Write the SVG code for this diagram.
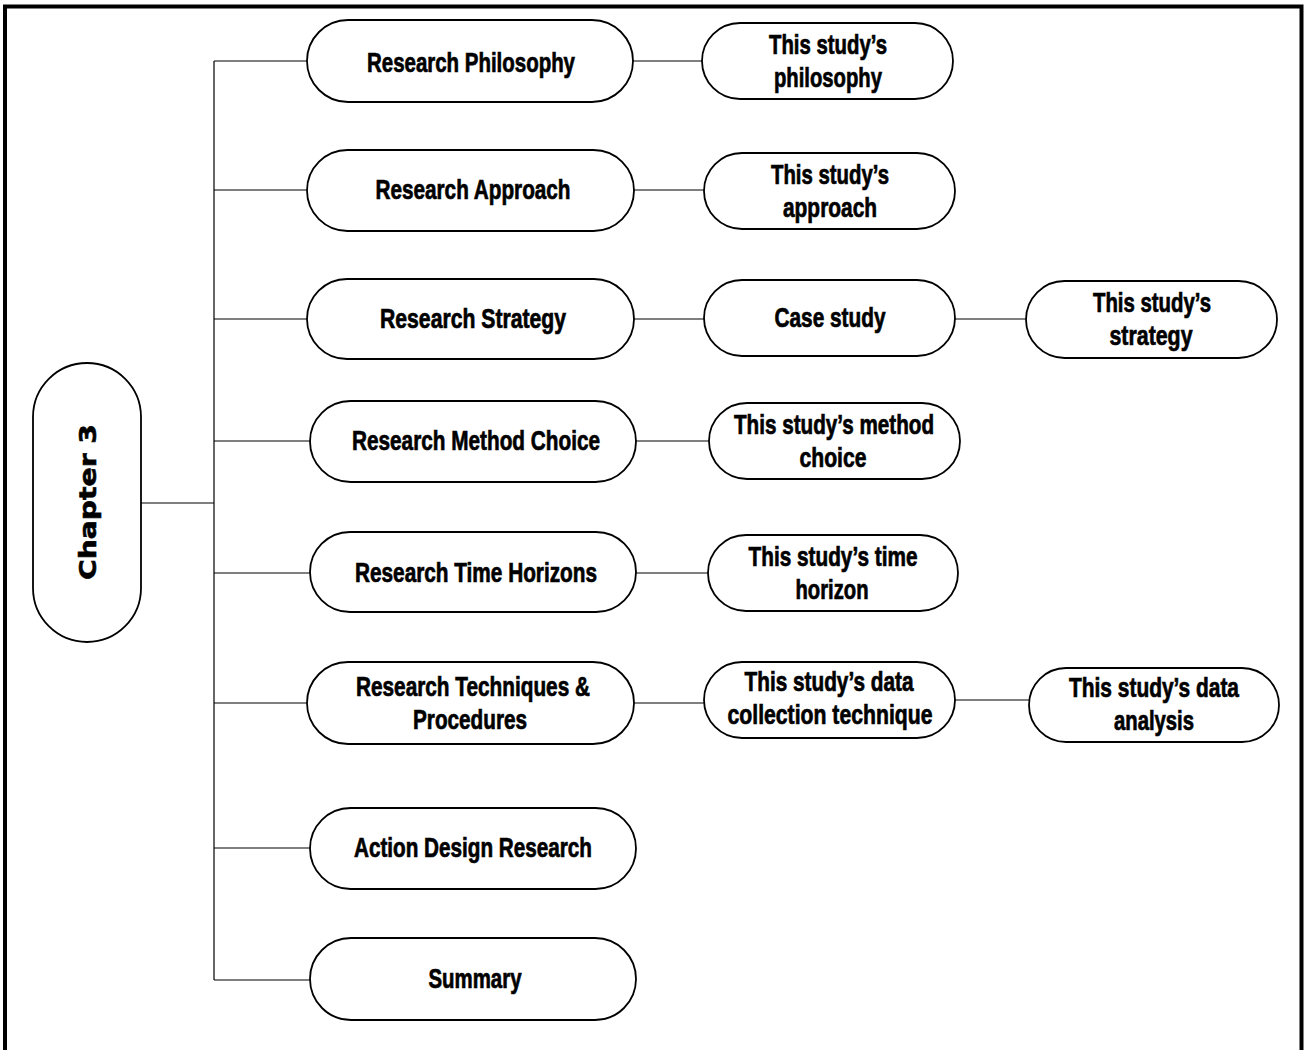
<svg xmlns="http://www.w3.org/2000/svg" width="1306" height="1050" viewBox="0 0 1306 1050">
<style>
.n{fill:#fff;stroke:#000;stroke-width:1.8}
.t{font-family:"Liberation Sans",Arial,sans-serif;font-weight:bold;font-size:27px;fill:#000;stroke:#000;stroke-width:0.7;text-anchor:middle}
.c{fill:none;stroke:#000;stroke-width:1.2}
.ch{font-family:"DejaVu Sans","Liberation Sans",sans-serif;font-weight:bold;font-size:23px;fill:#000;stroke:#000;stroke-width:0.6;text-anchor:middle}
</style>
<rect x="0" y="0" width="1306" height="1050" fill="#fff"/>
<path d="M5,1050 V6.5 H1301.5 V1050" fill="none" stroke="#000" stroke-width="4"/>
<g id="connectors">
<path class="c" d="M214,61 V980"/>
<path class="c" d="M141,503 H214"/>
<path class="c" d="M214,61 H307 M633,61 H702"/>
<path class="c" d="M214,190 H307 M634,190 H704"/>
<path class="c" d="M214,319 H307 M634,319 H704 M955,319 H1026"/>
<path class="c" d="M214,441 H310 M636,441 H709"/>
<path class="c" d="M214,573 H310 M636,573 H708"/>
<path class="c" d="M214,703 H307 M634,703 H704 M955,700 H1029"/>
<path class="c" d="M214,848 H310"/>
<path class="c" d="M214,980 H310"/>
</g>
<g id="chapter3"><rect class="n" x="33" y="363" width="108" height="279" rx="54"/><text class="ch" transform="translate(96,502) rotate(-90)" textLength="156" lengthAdjust="spacingAndGlyphs">Chapter 3</text></g>
<g id="philosophy"><rect class="n" x="307" y="20" width="326" height="82" rx="41"/><text class="t" x="471" y="72" textLength="208" lengthAdjust="spacingAndGlyphs">Research Philosophy</text></g>
<g id="approach"><rect class="n" x="307" y="150" width="327" height="81" rx="40.5"/><text class="t" x="473" y="199" textLength="195" lengthAdjust="spacingAndGlyphs">Research Approach</text></g>
<g id="strategy"><rect class="n" x="307" y="279" width="327" height="80" rx="40"/><text class="t" x="473" y="328" textLength="186" lengthAdjust="spacingAndGlyphs">Research Strategy</text></g>
<g id="method"><rect class="n" x="310" y="401" width="326" height="81" rx="40.5"/><text class="t" x="476" y="450" textLength="248" lengthAdjust="spacingAndGlyphs">Research Method Choice</text></g>
<g id="time"><rect class="n" x="310" y="532" width="326" height="80" rx="40"/><text class="t" x="476" y="582" textLength="242" lengthAdjust="spacingAndGlyphs">Research Time Horizons</text></g>
<g id="techniques"><rect class="n" x="307" y="662" width="327" height="82" rx="41"/><text class="t" x="473" y="696" textLength="234" lengthAdjust="spacingAndGlyphs">Research Techniques &amp;</text><text class="t" x="470" y="729" textLength="114" lengthAdjust="spacingAndGlyphs">Procedures</text></g>
<g id="adr"><rect class="n" x="310" y="808" width="326" height="81" rx="40.5"/><text class="t" x="473" y="857" textLength="238" lengthAdjust="spacingAndGlyphs">Action Design Research</text></g>
<g id="summary"><rect class="n" x="310" y="938" width="326" height="82" rx="41"/><text class="t" x="475" y="988" textLength="93" lengthAdjust="spacingAndGlyphs">Summary</text></g>
<g id="study-philosophy"><rect class="n" x="702" y="23" width="251" height="76" rx="38"/><text class="t" x="828" y="54" textLength="118" lengthAdjust="spacingAndGlyphs">This study’s</text><text class="t" x="828" y="87" textLength="108" lengthAdjust="spacingAndGlyphs">philosophy</text></g>
<g id="study-approach"><rect class="n" x="704" y="153" width="251" height="76" rx="38"/><text class="t" x="830" y="184" textLength="118" lengthAdjust="spacingAndGlyphs">This study’s</text><text class="t" x="830" y="217" textLength="94" lengthAdjust="spacingAndGlyphs">approach</text></g>
<g id="case-study"><rect class="n" x="704" y="280" width="251" height="76" rx="38"/><text class="t" x="830" y="327" textLength="111" lengthAdjust="spacingAndGlyphs">Case study</text></g>
<g id="study-strategy"><rect class="n" x="1026" y="281" width="251" height="77" rx="38.5"/><text class="t" x="1152" y="312" textLength="118" lengthAdjust="spacingAndGlyphs">This study’s</text><text class="t" x="1151" y="345" textLength="83" lengthAdjust="spacingAndGlyphs">strategy</text></g>
<g id="study-method"><rect class="n" x="709" y="403" width="251" height="76" rx="38"/><text class="t" x="834" y="434" textLength="200" lengthAdjust="spacingAndGlyphs">This study’s method</text><text class="t" x="833" y="467" textLength="67" lengthAdjust="spacingAndGlyphs">choice</text></g>
<g id="study-time"><rect class="n" x="708" y="535" width="250" height="76" rx="38"/><text class="t" x="833" y="566" textLength="169" lengthAdjust="spacingAndGlyphs">This study’s time</text><text class="t" x="832" y="599" textLength="73" lengthAdjust="spacingAndGlyphs">horizon</text></g>
<g id="study-collection"><rect class="n" x="704" y="662" width="251" height="76" rx="38"/><text class="t" x="829" y="691" textLength="169" lengthAdjust="spacingAndGlyphs">This study’s data</text><text class="t" x="830" y="724" textLength="205" lengthAdjust="spacingAndGlyphs">collection technique</text></g>
<g id="study-analysis"><rect class="n" x="1029" y="668" width="250" height="74" rx="37"/><text class="t" x="1154" y="697" textLength="170" lengthAdjust="spacingAndGlyphs">This study’s data</text><text class="t" x="1154" y="730" textLength="80" lengthAdjust="spacingAndGlyphs">analysis</text></g>
</svg>
